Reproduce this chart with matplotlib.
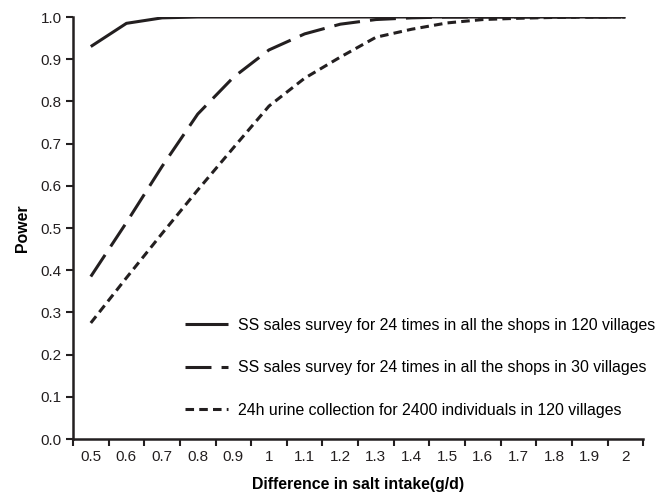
import matplotlib
matplotlib.use("Agg")
import matplotlib.pyplot as plt
import numpy as np

plt.rcParams['font.family'] = ['Liberation Sans', 'DejaVu Sans']

categories = ["0.5", "0.6", "0.7", "0.8", "0.9", "1", "1.1", "1.2", "1.3", "1.4",
              "1.5", "1.6", "1.7", "1.8", "1.9", "2"]

ss_120 = [0.930, 0.985, 0.998, 1.000, 1.000, 1.000, 1.000, 1.000, 1.000, 1.000,
          1.000, 1.000, 1.000, 1.000, 1.000, 1.000]
ss_30 = [0.385, 0.513, 0.646, 0.770, 0.857, 0.922, 0.960, 0.983, 0.994, 0.998,
         1.000, 1.000, 1.000, 1.000, 1.000, 1.000]
urine = [0.275, 0.382, 0.487, 0.590, 0.690, 0.789, 0.855, 0.905, 0.952, 0.971,
         0.986, 0.994, 0.997, 0.999, 1.000, 1.000]

labels = ["SS sales survey for 24 times in all the shops in 120 villages",
          "SS sales survey for 24 times in all the shops in 30 villages",
          "24h urine collection for 2400 individuals in 120 villages"]

fig = plt.figure(figsize=(6.67, 4.93), dpi=100)
ax = fig.add_axes([0.1094, 0.1095, 0.855, 0.856])

x = np.arange(len(categories))
lw = 2.2
col = '#231f20'
l1, = ax.plot(x, ss_120, color=col, lw=lw, solid_capstyle='butt', label=labels[0])
l2, = ax.plot(x, ss_30, color=col, lw=lw, dash_capstyle='butt', label=labels[1])
l2.set_dashes((8.5, 3.3))
l3, = ax.plot(x, urine, color=col, lw=lw, dash_capstyle='butt', label=labels[2])
l3.set_dashes((2.8, 1.7))

ax.set_xlim(-0.5, len(categories) - 0.5)
ax.set_ylim(0, 1.0)
ax.set_yticks(np.round(np.arange(0, 1.01, 0.1), 1))
ax.set_yticklabels([f"{v:.1f}" for v in np.arange(0, 1.01, 0.1)])

ax.set_xticks(np.arange(-0.5, len(categories), 1.0))
ax.set_xticklabels([])
ax.set_xticks(x, minor=True)
ax.set_xticklabels(categories, minor=True)
ax.tick_params(axis='x', which='minor', length=0, pad=8, labelsize=11, colors='#231f20')
ax.tick_params(axis='x', which='major', length=5, width=1.5, direction='out', color=col)
ax.tick_params(axis='y', length=5, width=1.5, direction='out', labelsize=11, color=col,
               labelcolor='#231f20', pad=3)

for s in ['top', 'right']:
    ax.spines[s].set_visible(False)
for s in ['left', 'bottom']:
    ax.spines[s].set_linewidth(1.8)
    ax.spines[s].set_color(col)

ax.set_xlabel("Difference in salt intake(g/d)", fontweight='bold', fontsize=11.4, labelpad=9)
ax.set_ylabel("Power", fontweight='bold', fontsize=11.4, labelpad=8)

leg = ax.legend(loc='upper left', bbox_to_anchor=(0.186, 0.302), frameon=False,
                fontsize=11.4, handlelength=2.72, handletextpad=0.63, labelspacing=1.73,
                borderaxespad=0)

fig.savefig("out.png", dpi=100)
